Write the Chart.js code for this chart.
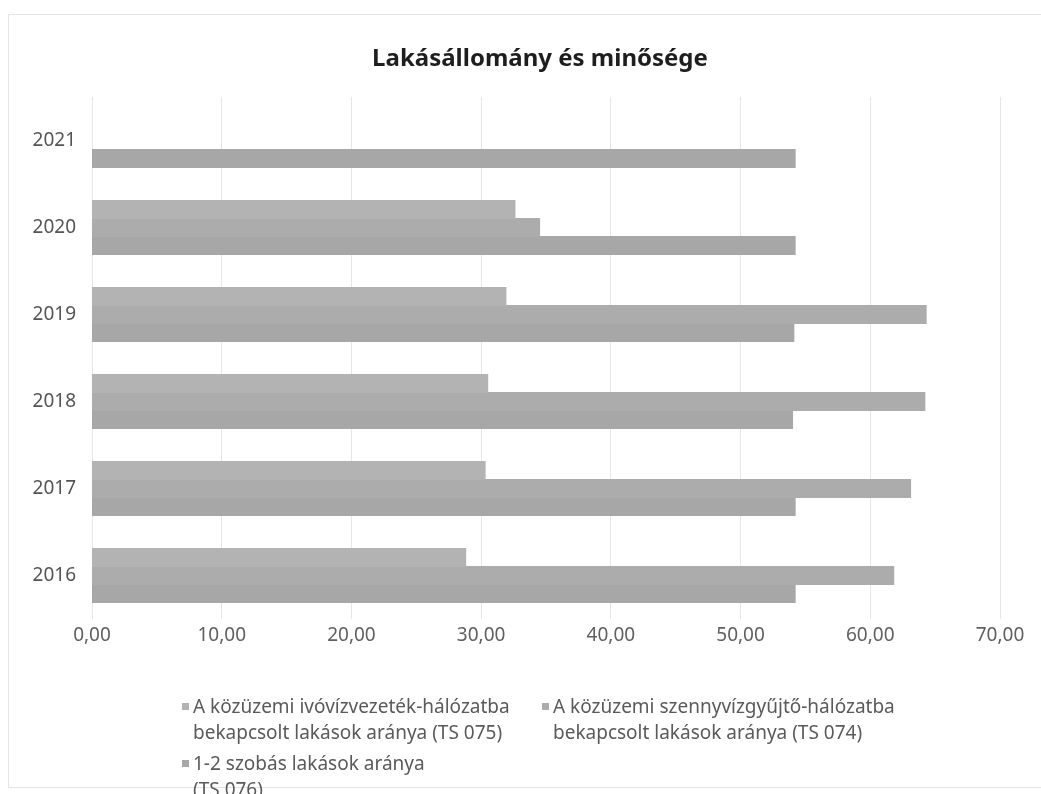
<!DOCTYPE html>
<html lang="hu">
<head>
<meta charset="utf-8">
<title>Lakásállomány és minősége</title>
<script src="https://cdn.jsdelivr.net/npm/chart.js@4.4.0/dist/chart.umd.min.js"></script>
<style>
  body { margin: 0; background: #fff; }
  #keret { position: relative; width: 1041px; height: 794px; overflow: hidden; }
  #szegely { position: absolute; left: 8px; top: 14px; right: -2px; bottom: 6px;
             border: 1px solid #e4e4e4; }
  #cim { position: absolute; left: 0; width: 1080px; top: 41px; text-align: center;
         font-family: "Noto Sans", sans-serif; font-weight: bold; font-size: 24px;
         line-height: 32px; color: #1e1e1e; }
  #jelmagyarazat { position: absolute; left: 0; top: 0; font-family: "Noto Sans", sans-serif;
                   font-size: 19px; color: #5a5a5a; }
  .tetel { position: absolute; line-height: 26px; white-space: nowrap; }
  .tetel i { position: absolute; left: -11px; top: 10px; width: 7px; height: 7px; }
</style>
</head>
<body>
<div id="keret">
  <div id="szegely"></div>
  <canvas id="grafikon"></canvas>
  <div id="cim">Lakásállomány és minősége</div>
  <div id="jelmagyarazat"></div>
</div>
<script>
// adatok
var evek = ['2016', '2017', '2018', '2019', '2020', '2021'];
var ivoviz = [28.8, 30.3, 30.5, 31.9, 32.6, null];
var szennyviz = [61.8, 63.1, 64.2, 64.3, 34.5, null];
var szobas = [54.2, 54.2, 54.0, 54.1, 54.2, 54.2];

var sorozatNevek = [
    ['A közüzemi ivóvízvezeték-hálózatba', 'bekapcsolt lakások aránya (TS 075)'],
    ['A közüzemi szennyvízgyűjtő-hálózatba', 'bekapcsolt lakások aránya (TS 074)'],
    ['1-2 szobás lakások aránya', '(TS 076)']
];
var szinek = ['#b3b3b3', '#acacac', '#a7a7a7'];

function szamFormat(v){
    return Number(v).toFixed(2).replace('.', ',');
}

var ctx = document.getElementById('grafikon');
ctx.width = 1041; ctx.height = 794;

var grafikon = new Chart(ctx, {
    type: 'bar',
    data: {
        labels: evek,
        datasets: [
            { label: sorozatNevek[0].join(' '), data: ivoviz, backgroundColor: szinek[0] },
            { label: sorozatNevek[1].join(' '), data: szennyviz, backgroundColor: szinek[1] },
            { label: sorozatNevek[2].join(' '), data: szobas, backgroundColor: szinek[2] }
        ]
    },
    options: {
        indexAxis: 'y',
        responsive: false,
        animation: false,
        devicePixelRatio: 1,
        layout: { padding: { left: 0, right: 41, top: 97, bottom: 0 } },
        datasets: {
            bar: { categoryPercentage: 0.62, barPercentage: 1.0, borderWidth: 0, inflateAmount: 0.6 }
        },
        plugins: {
            legend: { display: false },
            tooltip: { enabled: false },
            title: { display: false }
        },
        scales: {
            x: {
                min: 0,
                max: 70,
                ticks: {
                    stepSize: 10,
                    padding: 5,
                    color: '#606060',
                    font: { family: 'Noto Sans', size: 19 },
                    callback: function(v){ return szamFormat(v); }
                },
                grid: { color: '#e6e6e6', drawTicks: false },
                border: { display: false },
                afterFit: function(scale){ scale.height = 175; }
            },
            y: {
                reverse: true,
                ticks: {
                    padding: 16,
                    color: '#555555',
                    font: { family: 'Noto Sans', size: 19 }
                },
                grid: { display: false, drawTicks: false },
                border: { display: false },
                afterFit: function(scale){ scale.width = 92; }
            }
        }
    }
});

// jelmagyarázat
var helyek = [[193, 693], [553, 693], [193, 750]];
var jm = document.getElementById('jelmagyarazat');
sorozatNevek.forEach(function(nev, i){
    var d = document.createElement('div');
    d.className = 'tetel';
    d.style.left = helyek[i][0] + 'px';
    d.style.top = helyek[i][1] + 'px';
    d.innerHTML = '<i style="background:' + szinek[i] + '"></i>' + nev.join('<br>');
    jm.appendChild(d);
});
</script>
</body>
</html>
